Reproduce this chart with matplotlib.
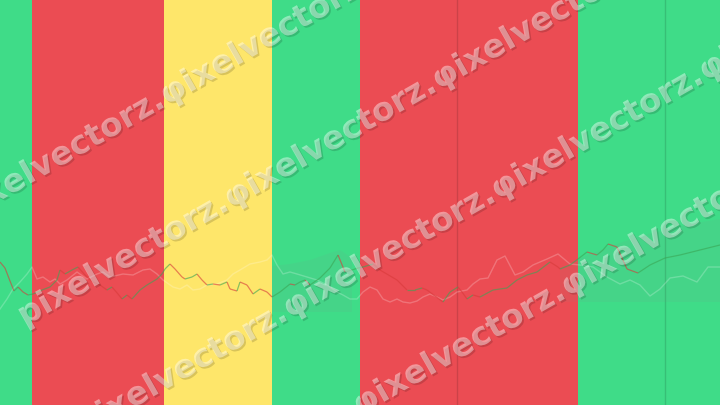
import matplotlib
matplotlib.use("Agg")
import matplotlib.pyplot as plt
import matplotlib.patheffects as pe
from matplotlib.collections import LineCollection
import numpy as np

# ---- data (x = bar index, y = level, axis inverted) ----
band_edges = [0, 32, 164, 272, 360, 578, 720]
band_states = ["bull", "bear", "neutral", "bull", "bear", "bull"]
state_colors = {"bull": "#3fdc88", "bear": "#eb4c53", "neutral": "#fee66a"}
separators = [457, 665]

white_x = [0, 7, 13, 20, 27, 32, 37, 43, 50, 55, 60, 67, 77, 87, 97, 103, 110, 123,
           133, 143, 150, 157, 163, 173, 180, 187, 193, 200, 207, 217, 227, 233, 240,
           250, 260, 267, 272, 277, 283, 290, 297, 307, 317, 327, 337, 343, 350, 357,
           363, 370, 377, 383, 390, 397, 403, 410, 417, 423, 430, 437, 443, 450, 457,
           467, 473, 480, 488, 497, 505, 515, 523, 533, 547, 558, 570, 580, 593, 607,
           620, 630, 640, 650, 660, 670, 683, 697, 708, 720]
white_y = [309, 299, 289, 282, 274, 267, 279, 277, 282, 279, 284, 280, 272, 279, 274,
           272, 277, 274, 275, 270, 269, 274, 280, 287, 289, 285, 290, 289, 285, 284,
           280, 274, 270, 264, 262, 260, 255, 265, 274, 272, 274, 277, 280, 285, 292,
           295, 299, 299, 292, 287, 290, 299, 302, 299, 302, 303, 301, 297, 294, 297,
           300, 297, 292, 290, 284, 279, 278, 260, 256, 275, 272, 265, 259, 254, 264,
           265, 267, 277, 284, 280, 285, 296, 289, 278, 276, 282, 267, 267]

price_x = [0, 5, 10, 14, 18, 23, 28, 33, 42, 50, 57, 60, 65, 72, 78, 85, 93, 100,
           107, 112, 118, 122, 127, 132, 140, 147, 157, 162, 165, 170, 175, 182, 185,
           192, 197, 202, 207, 213, 220, 227, 230, 237, 240, 247, 253, 260, 267, 272,
           280, 290, 295, 300, 305, 310, 320, 330, 338, 345, 352, 358, 363, 373, 380,
           397, 407, 415, 422, 427, 435, 443, 450, 458, 462, 467, 473, 480, 493, 507,
           517, 527, 537, 550, 558, 560, 570, 578, 587, 597, 603, 608, 617, 627, 638,
           650, 665, 680, 700, 720]
price_y = [262, 268, 281, 291, 287, 292, 295, 294, 290, 287, 280, 270, 274, 270, 267,
           275, 282, 285, 290, 287, 294, 299, 295, 299, 290, 285, 279, 274, 269, 264,
           269, 277, 279, 277, 274, 280, 285, 284, 285, 282, 289, 291, 282, 285, 294,
           289, 292, 297, 292, 284, 285, 282, 280, 285, 278, 268, 255, 272, 270, 268,
           267, 264, 270, 280, 290, 290, 288, 290, 296, 302, 292, 287, 292, 299, 295,
           297, 290, 288, 280, 275, 272, 262, 267, 269, 265, 259, 252, 255, 250, 244,
           247, 269, 273, 265, 258, 255, 250, 245]

cloud_x = [272, 290, 310, 330, 340, 352, 360, 560, 580, 600, 620, 640, 665, 690, 720]
cloud_top = [266, 264, 260, 253, 250, 258, 266, 268, 258, 250, 243, 236, 230, 224, 219]
cloud_bot = [312, 312, 312, 312, 312, 312, 312, 302, 302, 302, 302, 302, 302, 302, 302]
cloud_on = [True, True, True, True, True, True, False, True, True, True, True, True,
            True, True, True]

watermark = "pixelvectorz.φixelvectorz.φixelvectorz.φixelvectorz."
wm_x = [-44, 20, 79, 149]      # row start, pixels from left
wm_y = [215, 318, 428, 525]    # row start, pixels from top

# ---- figure ----
W, H = 720, 405
fig = plt.figure(figsize=(W / 100, H / 100), dpi=100)
ax = fig.add_axes([0, 0, 1, 1])
ax.set_xlim(band_edges[0], band_edges[-1])
ax.set_ylim(H, 0)
ax.axis("off")

for x0, x1, st in zip(band_edges[:-1], band_edges[1:], band_states):
    ax.axvspan(x0, x1, color=state_colors[st], lw=0, zorder=0)

for sx in separators:
    ax.axvline(sx, color="black", alpha=0.13, lw=1, zorder=1)

ax.fill_between(cloud_x, cloud_top, cloud_bot, where=cloud_on, color="#8a8a8a",
                alpha=0.09, lw=0, zorder=1)

ax.plot(white_x, white_y, color="white", alpha=0.22, lw=1.0, zorder=2)

px = np.array(price_x, float)
py = np.array(price_y, float)
segs = np.stack([np.column_stack([px[:-1], py[:-1]]),
                 np.column_stack([px[1:], py[1:]])], axis=1)
cols = ["#3aa655" if b <= a else "#d83a3a" for a, b in zip(py[:-1], py[1:])]
ax.add_collection(LineCollection(segs, colors=cols, linewidths=0.9, alpha=0.6,
                                 zorder=3))

for x, y in zip(wm_x, wm_y):
    fig.text(x / W, 1 - y / H, watermark, rotation=29.7, rotation_mode="anchor",
             ha="left", va="center", fontsize=23.5, fontweight="bold",
             family="DejaVu Sans", color="white", alpha=0.42, zorder=10,
             path_effects=[pe.withSimplePatchShadow(offset=(1.2, -1.2),
                                                    shadow_rgbFace="black",
                                                    alpha=0.15)])

fig.savefig("out.png", dpi=100)
